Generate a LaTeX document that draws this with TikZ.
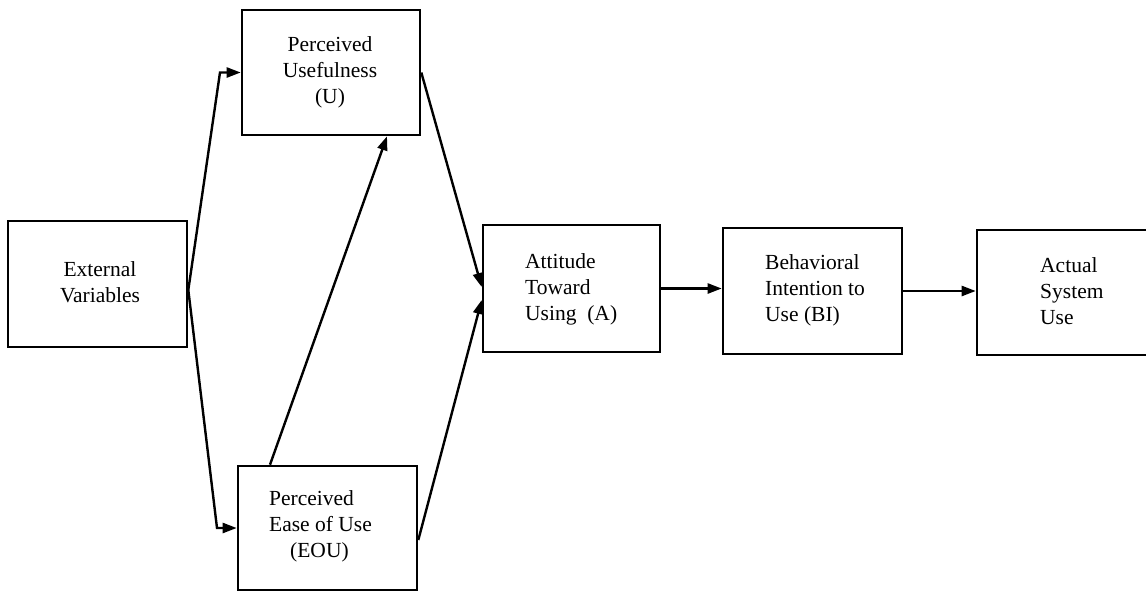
\documentclass[tikz,border=0pt]{standalone}
\usepackage{fontspec}
\setmainfont{Liberation Serif}
\usetikzlibrary{arrows.meta}
\begin{document}
\begin{tikzpicture}[x=1pt,y=-1pt,
  box/.style={draw,line width=2.6pt,rectangle,inner sep=0pt},
  lbl/.style={inner sep=0pt,font=\fontsize{21.5}{26}\selectfont},
  arr/.style={line width=2.4pt,-{Triangle[length=14pt,width=10pt]}}]
\path[use as bounding box,clip] (0,0) rectangle (1146,592);
\fill[white] (0,0) rectangle (1146,592);
% boxes
\node[box,minimum width=179pt,minimum height=126pt] (ext) at (97.5,284) {};
\node[box,minimum width=178pt,minimum height=125pt] (u) at (331,72.5) {};
\node[box,minimum width=179pt,minimum height=124pt] (eou) at (327.5,528) {};
\node[box,minimum width=177pt,minimum height=127pt] (att) at (571.5,288.5) {};
\node[box,minimum width=179pt,minimum height=126pt] (bi) at (812.5,291) {};
\node[box,minimum width=183pt,minimum height=125pt] (act) at (1068.5,292.5) {};
% labels
\node[lbl,align=center] (text) at (100,282) {External\\Variables};
\node[lbl,align=center] (tu) at (330,72) {Perceived\\Usefulness\\(U)};
\node[lbl,align=left,anchor=west] (teou) at (269,526) {Perceived\\Ease of Use\\\hspace*{21pt}(EOU)};
\node[lbl,align=left,anchor=west] (tatt) at (525,289) {Attitude\\Toward\\Using\ \ (A)};
\node[lbl,align=left,anchor=west] (tbi) at (765,290) {Behavioral\\Intention to\\Use (BI)};
\node[lbl,align=left,anchor=west] (tact) at (1040,291) {Actual\\System\\Use};
% connectors
\coordinate (b1) at (220,72.5);
\coordinate (b2) at (217,528);
\draw[arr] ([yshift=-6pt]ext.east) -- (b1) -- (u.west);
\draw[arr] ([yshift=-6pt]ext.east) -- (b2) -- (eou.west);
\draw[arr] (u.east) -- ([yshift=1.5pt]att.west);
\draw[arr] ([yshift=-12pt]eou.east) -- ([yshift=-11.5pt]att.west);
\draw[arr] ([xshift=-57.5pt]eou.north) -- ([xshift=56pt]u.south);
\draw[arr] (att.east) -- (att.east -| bi.west);
\draw[arr] (bi.east) -- (bi.east -| act.west);
\end{tikzpicture}
\end{document}
